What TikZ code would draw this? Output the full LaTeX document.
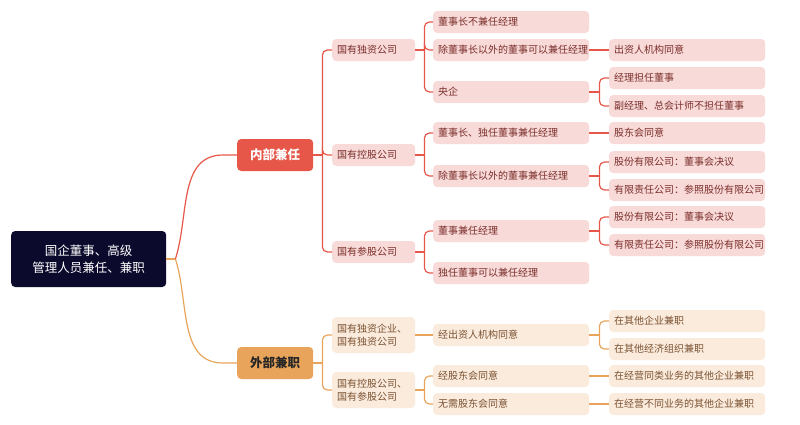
\documentclass[tikz,border=0pt]{standalone}
\usepackage{fontspec}
\setmainfont{Noto Sans CJK SC}
\newfontfamily\cjk{Noto Sans CJK SC}
\definecolor{rmain}{HTML}{E6574A}
\definecolor{rfill}{HTML}{F8DAD8}
\definecolor{rtext}{HTML}{7A2E2A}
\definecolor{omain}{HTML}{E9A45C}
\definecolor{ofill}{HTML}{FBEBDD}
\definecolor{otext}{HTML}{7A5232}
\definecolor{rootc}{HTML}{0B0A2C}
\begin{document}
\begin{tikzpicture}[x=1pt,y=-1pt,
  base/.style={rounded corners=4pt,inner sep=0pt,anchor=west,font=\cjk\fontsize{10}{13}\selectfont,align=left},
  rbox/.style={base,fill=rfill,text=rtext},
  obox/.style={base,fill=ofill,text=otext},
  lvtwo/.style={minimum width=83pt,text width=73pt,minimum height=22pt},
  lvthree/.style={minimum width=156pt,text width=146pt,minimum height=22pt},
  rline/.style={draw=rmain,line width=1.2pt},
  oline/.style={draw=omain,line width=1.2pt},
  rc/.style={rounded corners=5pt}]
\useasboundingbox (0,0) rectangle (800,424);
% root
\node[fill=rootc,text=white,rounded corners=4pt,minimum width=155pt,minimum height=56pt,align=center,font=\cjk\fontsize{12.5}{17}\selectfont,anchor=west] (root) at (11,259) {国企董事、高级\\管理人员兼任、兼职};
% level 1
\node[fill=rmain,text=white,rounded corners=4pt,minimum width=76pt,minimum height=32pt,font=\cjk\bfseries\fontsize{12.5}{15}\selectfont,anchor=west] (in) at (237,155) {内部兼任};
\node[fill=omain,text=black!85,rounded corners=4pt,minimum width=76pt,minimum height=32pt,font=\cjk\bfseries\fontsize{12.5}{15}\selectfont,anchor=west] (out) at (237,363) {外部兼职};
% level 2 red
\node[rbox,lvtwo] (a1) at (332,50) {国有独资公司};
\node[rbox,lvtwo] (a2) at (332,155) {国有控股公司};
\node[rbox,lvtwo] (a3) at (332,252) {国有参股公司};
% level 2 orange
\node[obox,lvtwo,minimum height=36pt] (b1) at (332,335) {国有独资企业、\\国有独资公司};
\node[obox,lvtwo,minimum height=36pt] (b2) at (332,390) {国有控股公司、\\国有参股公司};
% level 3 red
\node[rbox,lvthree] (c1) at (433,22) {董事长不兼任经理};
\node[rbox,lvthree] (c2) at (433,50) {除董事长以外的董事可以兼任经理};
\node[rbox,lvthree] (c3) at (433,92) {央企};
\node[rbox,lvthree] (c4) at (433,133) {董事长、独任董事兼任经理};
\node[rbox,lvthree] (c5) at (433,176) {除董事长以外的董事兼任经理};
\node[rbox,lvthree] (c6) at (433,231) {董事兼任经理};
\node[rbox,lvthree] (c7) at (433,273) {独任董事可以兼任经理};
% level 3 orange
\node[obox,lvthree] (d1) at (433,335) {经出资人机构同意};
\node[obox,lvthree] (d2) at (433,376) {经股东会同意};
\node[obox,lvthree] (d3) at (433,404) {无需股东会同意};
% level 4 red
\node[rbox,lvthree] (e1) at (609,50) {出资人机构同意};
\node[rbox,lvthree] (e2) at (609,78) {经理担任董事};
\node[rbox,lvthree] (e3) at (609,106) {副经理、总会计师不担任董事};
\node[rbox,lvthree] (e4) at (609,133) {股东会同意};
\node[rbox,lvthree] (e5) at (609,162) {股份有限公司：董事会决议};
\node[rbox,lvthree] (e6) at (609,190) {有限责任公司：参照股份有限公司};
\node[rbox,lvthree] (e7) at (609,217) {股份有限公司：董事会决议};
\node[rbox,lvthree] (e8) at (609,245) {有限责任公司：参照股份有限公司};
% level 4 orange
\node[obox,lvthree] (f1) at (609,321) {在其他企业兼职};
\node[obox,lvthree] (f2) at (609,349) {在其他经济组织兼职};
\node[obox,lvthree] (f3) at (609,376) {在经营同类业务的其他企业兼职};
\node[obox,lvthree] (f4) at (609,404) {在经营不同业务的其他企业兼职};
% junctions
\coordinate (jr) at ([xshift=9pt]root.east);
\coordinate (jin) at ([xshift=9pt]in.east);
\coordinate (jout) at ([xshift=9pt]out.east);
\coordinate (ja1) at ([xshift=9pt]a1.east);
\coordinate (ja2) at ([xshift=9pt]a2.east);
\coordinate (ja3) at ([xshift=9pt]a3.east);
\coordinate (jb1) at ([xshift=9pt]b1.east);
\coordinate (jb2) at ([xshift=9pt]b2.east);
\coordinate (jc2) at ([xshift=10pt]c2.east);
\coordinate (jc3) at ([xshift=10pt]c3.east);
\coordinate (jc4) at ([xshift=10pt]c4.east);
\coordinate (jc5) at ([xshift=10pt]c5.east);
\coordinate (jc6) at ([xshift=10pt]c6.east);
\coordinate (jd1) at ([xshift=10pt]d1.east);
\coordinate (jd2) at ([xshift=10pt]d2.east);
\coordinate (jd3) at ([xshift=10pt]d3.east);
% root connectors
\draw[oline] (root.east) -- (jr);
\draw[oline] (jr) to[out=-72,in=180] ([xshift=-14pt]out.west) -- (out.west);
\draw[rline] (jr) to[out=72,in=180] ([xshift=-14pt]in.west) -- (in.west);
% level1 -> level2
\draw[rline] (in.east) -- (jin);
\foreach \n in {a1,a2,a3} \draw[rline,rc] (jin) |- (\n.west);
\draw[oline] (out.east) -- (jout);
\foreach \n in {b1,b2} \draw[oline,rc] (jout) |- (\n.west);
% level2 -> level3
\draw[rline] (a1.east) -- (ja1);
\foreach \n in {c1,c2,c3} \draw[rline,rc] (ja1) |- (\n.west);
\draw[rline] (a2.east) -- (ja2);
\foreach \n in {c4,c5} \draw[rline,rc] (ja2) |- (\n.west);
\draw[rline] (a3.east) -- (ja3);
\foreach \n in {c6,c7} \draw[rline,rc] (ja3) |- (\n.west);
\draw[oline] (b1.east) -- (d1.west);
\draw[oline] (b2.east) -- (jb2);
\foreach \n in {d2,d3} \draw[oline,rc] (jb2) |- (\n.west);
% level3 -> level4
\draw[rline] (c2.east) -- (e1.west);
\draw[rline] (c3.east) -- (jc3);
\foreach \n in {e2,e3} \draw[rline,rc] (jc3) |- (\n.west);
\draw[rline] (c4.east) -- (e4.west);
\draw[rline] (c5.east) -- (jc5);
\foreach \n in {e5,e6} \draw[rline,rc] (jc5) |- (\n.west);
\draw[rline] (c6.east) -- (jc6);
\foreach \n in {e7,e8} \draw[rline,rc] (jc6) |- (\n.west);
\draw[oline] (d1.east) -- (jd1);
\foreach \n in {f1,f2} \draw[oline,rc] (jd1) |- (\n.west);
\draw[oline] (d2.east) -- (f3.west);
\draw[oline] (d3.east) -- (f4.west);
\end{tikzpicture}
\end{document}
